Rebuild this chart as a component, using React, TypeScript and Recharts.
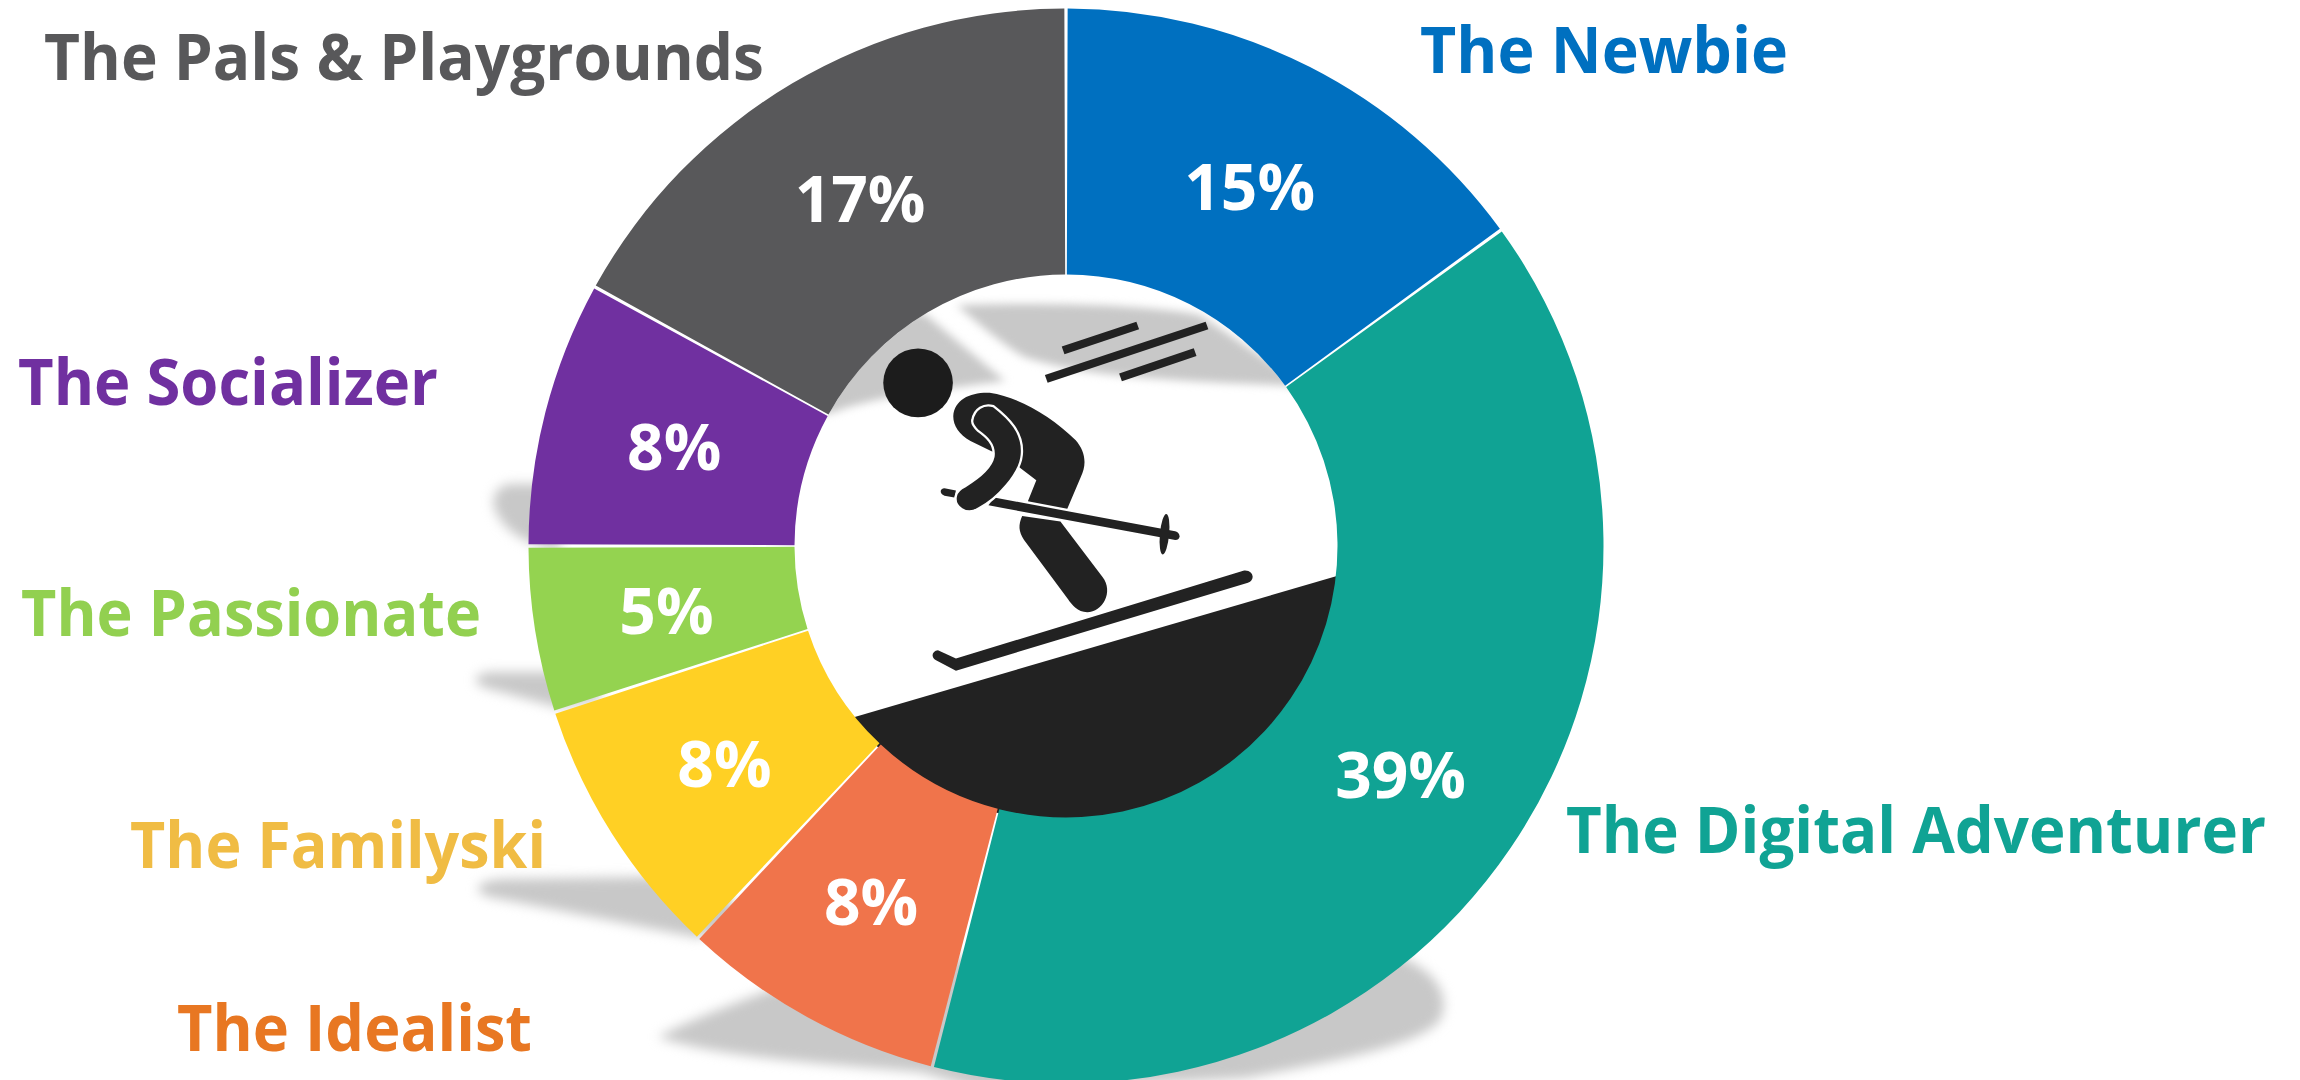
import React from "react";
import { PieChart, Pie, Cell, Sector } from "recharts";

// Ski traveller segments, clockwise from 12 o'clock
const segmentNames = [
  "The Newbie",
  "The Digital Adventurer",
  "The Idealist",
  "The Familyski",
  "The Passionate",
  "The Socializer",
  "The Pals & Playgrounds",
];
const segmentShares = [15, 39, 8, 8, 5, 8, 17];
const sliceColors = ["#0070c0", "#10a394", "#f0744b", "#ffd024", "#94d350", "#7030a0", "#58585a"];
const nameColors = ["#0070c0", "#10a394", "#e87722", "#f0bc44", "#92d050", "#7030a0", "#58585a"];

// Name captions sit freely around the ring: [left, baseline, width]
const namePlacement = [
  [1420, 73, 368],
  [1566, 853, 700],
  [177, 1051, 355],
  [130, 868, 416],
  [21, 636, 460],
  [18, 405, 420],
  [44, 80, 720],
];

const chartData = segmentNames.map((name, i) => ({ name, value: segmentShares[i] }));

const CX = 1066;
const CY = 546;
const INNER = 271.5;
const OUTER = 537.5;
const SEAM = 0.35;
const INK = "#222222";
const FONT = "'Open Sans', sans-serif";

// Trim each slice a little so the shadows show through the seams
const renderSlice = (props: any) => (
  <Sector {...props} startAngle={props.startAngle - SEAM / 2} endAngle={props.endAngle + SEAM / 2} />
);

const renderLabels = (props: any) => {
  const { midAngle, index, value } = props;
  const r = (INNER + OUTER) / 2;
  const rad = (midAngle * Math.PI) / 180;
  const [left, baseline, width] = namePlacement[index];
  return (
    <g key={index} fontFamily={FONT} fontWeight={700}>
      <text
        x={CX + r * Math.cos(rad)}
        y={CY - r * Math.sin(rad)}
        fill="#ffffff"
        fontSize={64}
        textAnchor="middle"
        dominantBaseline="central"
      >
        {value}%
      </text>
      <text x={left} y={baseline} fill={nameColors[index]} fontSize={64} textLength={width} lengthAdjust="spacingAndGlyphs">
        {segmentNames[index]}
      </text>
    </g>
  );
};

// Soft drop shadows falling to the left and below the ring
const RingShadows = () => (
  <g fill="#c8c8c8" style={{ filter: "blur(6px)" }}>
    <path d="M 560 484 L 510 484 C 495 486 490 500 496 512 C 505 530 520 542 560 552 Z" />
    <path d="M 600 672 L 490 672 C 472 674 472 684 486 688 L 560 708 L 600 700 Z" />
    <path d="M 720 876 L 500 879 C 474 882 472 892 490 897 L 700 938 L 740 920 Z" />
    <path d="M 658 1037 C 690 1020 730 1005 770 990 L 1300 900 L 1407 960 C 1440 975 1450 1000 1440 1020 C 1420 1045 1340 1060 1246 1078 L 990 1092 L 920 1072 C 840 1065 720 1058 658 1037 Z" />
  </g>
);

// Skier pictogram in the hole of the ring
const SkierBadge = () => (
  <g>
    <defs>
      <clipPath id="hole-clip">
        <circle cx={CX} cy={CY} r={INNER} />
      </clipPath>
      <clipPath id="ground-clip">
        <circle cx={CX} cy={CY} r={INNER + 4} />
      </clipPath>
    </defs>
    <g clipPath="url(#hole-clip)">
      <g transform="translate(760 270) scale(0.3827 0.37)" fill="#c8c8c8" style={{ filter: "blur(12px)" }}>
        <path d="M 515 95 C 700 88 1000 90 1150 122 L 1450 330 L 1380 312 C 1100 300 850 290 690 235 C 620 190 560 135 515 95 Z" />
        <path d="M 430 118 L 640 300 C 500 318 300 340 190 385 L 100 400 L 300 120 Z" />
      </g>
    </g>
    <g clipPath="url(#ground-clip)">
      <polygon points="800,733 1345,573.6 1345,830 800,830" fill={INK} />
    </g>
    <g transform="translate(760 270) scale(0.3827 0.37)" fill={INK}>
      <ellipse cx={413} cy={305} rx={91} ry={93} fill="#1c1c1c" />
      <path d="M 505 395 C 508 350 550 330 600 332 C 680 345 760 395 825 460 C 850 490 855 525 838 560 L 803 645 L 700 625 L 722 568 L 680 535 L 640 500 L 605 490 L 550 462 C 520 445 505 420 505 395 Z" />
      <path d="M 685 665 L 785 680 L 895 830 C 925 870 895 925 855 925 C 830 925 815 905 805 890 L 690 730 C 675 705 675 690 685 665 Z" />
      <path
        d="M 612 615 L 1085 706 C 1100 710 1100 730 1085 730 L 597 636 Z"
        stroke="#ffffff"
        strokeWidth={7}
        paintOrder="stroke"
      />
      <path d="M 482 590 L 512 596 L 508 615 L 482 610 C 468 605 470 590 482 590 Z" />
      <path
        d="M 555 405 C 560 375 585 360 610 368 C 650 400 690 440 684 500 C 680 550 620 620 570 645 C 540 665 505 640 512 610 C 515 598 525 590 535 585 C 575 560 605 530 610 505 C 615 470 590 450 570 435 C 560 425 552 415 555 405 Z"
        stroke="#ffffff"
        strokeWidth={6}
      />
      <ellipse cx={1057} cy={714} rx={12} ry={55} transform="rotate(5 1057 714)" />
      <path d="M 465 1028 L 512 1050 L 1265 812 C 1290 810 1295 838 1275 845 L 512 1083 L 460 1055 C 445 1045 450 1030 465 1028 Z" />
      <line x1={792} y1={217} x2={987} y2={150} stroke={INK} strokeWidth={22} />
      <line x1={748} y1={294} x2={1168} y2={150} stroke={INK} strokeWidth={22} />
      <line x1={942} y1={290} x2={1137} y2={222} stroke={INK} strokeWidth={22} />
    </g>
  </g>
);

export default function App() {
  return (
    <div style={{ position: "absolute", left: 0, top: 0, width: 2300, height: 1080, background: "#ffffff" }}>
      <PieChart width={2300} height={1080} margin={{ top: 0, right: 0, bottom: 0, left: 0 }}>
        <RingShadows />
        <Pie
          data={chartData}
          dataKey="value"
          nameKey="name"
          cx={CX}
          cy={CY}
          innerRadius={INNER}
          outerRadius={OUTER}
          startAngle={90}
          endAngle={-270}
          stroke="none"
          shape={renderSlice}
          label={renderLabels}
          labelLine={false}
          isAnimationActive={false}
        >
          {chartData.map((entry, index) => (
            <Cell key={`cell-${entry.name}`} fill={sliceColors[index]} />
          ))}
        </Pie>
        <SkierBadge />
      </PieChart>
    </div>
  );
}
